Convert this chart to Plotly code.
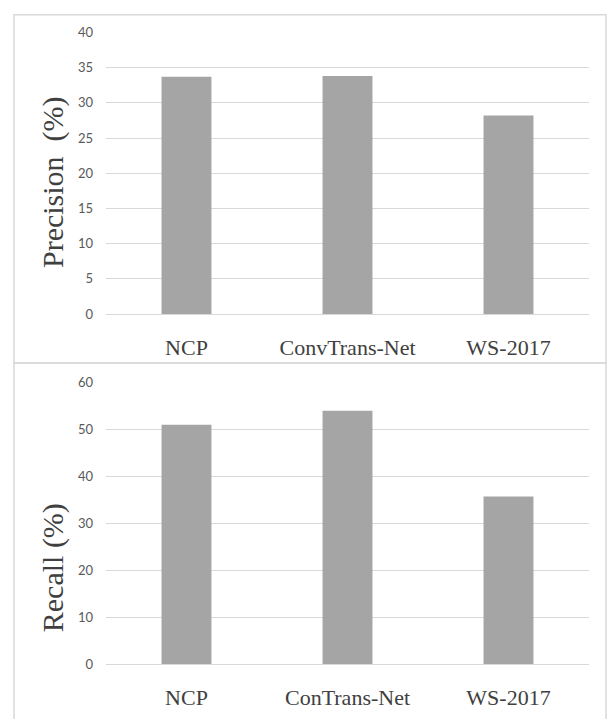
import plotly.graph_objects as go

# Data
precision_models = ["NCP", "ConvTrans-Net", "WS-2017"]
precision_values = [33.7, 33.8, 28.2]

recall_models = ["NCP", "ConTrans-Net", "WS-2017"]
recall_values = [51.0, 54.0, 35.7]

precision_ticks = [0, 5, 10, 15, 20, 25, 30, 35, 40]
recall_ticks = [0, 10, 20, 30, 40, 50, 60]

W, H = 610, 719
BAR = "#a5a5a5"
GRID = "#d9d9d9"
SERIF = "Liberation Serif, Times New Roman, serif"
SANS = "Lato, Open Sans, sans-serif"


def py(px):
    """Convert a pixel row (from top) to paper y."""
    return 1 - px / H


def px_x(px):
    return px / W


fig = go.Figure()

fig.add_trace(go.Bar(x=precision_models, y=precision_values, width=0.31,
                     marker=dict(color=BAR, line=dict(width=0)),
                     xaxis="x", yaxis="y", showlegend=False))
fig.add_trace(go.Bar(x=recall_models, y=recall_values, width=0.31,
                     marker=dict(color=BAR, line=dict(width=0)),
                     xaxis="x2", yaxis="y2", showlegend=False))

xdom = [px_x(106), px_x(589)]

common_x = dict(showline=False, ticks="", showgrid=False, zeroline=False,
                tickfont=dict(family=SERIF, size=22, color="#404040"),
                ticklabelstandoff=18)
common_y = dict(showline=False, ticks="", showgrid=True, gridcolor=GRID,
                gridwidth=1, zeroline=True, zerolinecolor=GRID, zerolinewidth=1,
                tickfont=dict(family=SANS, size=13, color="#595959"),
                ticklabelstandoff=12)

fig.update_layout(
    width=W, height=H,
    margin=dict(l=0, r=0, t=0, b=0),
    paper_bgcolor="white", plot_bgcolor="white",
    bargap=0.69,
    xaxis=dict(domain=xdom, anchor="y", **common_x),
    yaxis=dict(domain=[py(313), py(25)], anchor="x", range=[0, 40],
               tickvals=precision_ticks, **common_y),
    xaxis2=dict(domain=xdom, anchor="y2", **common_x),
    yaxis2=dict(domain=[py(671), py(383)], anchor="x2", range=[0, 60],
                tickvals=recall_ticks, **common_y),
)

# Panel frames
fig.add_shape(type="rect", xref="paper", yref="paper",
              x0=px_x(14), x1=px_x(606), y0=py(363), y1=py(7),
              line=dict(color=GRID, width=1.5), fillcolor="rgba(0,0,0,0)", layer="below")
fig.add_shape(type="rect", xref="paper", yref="paper",
              x0=px_x(14), x1=px_x(606), y0=py(730), y1=py(363),
              line=dict(color=GRID, width=1.5), fillcolor="rgba(0,0,0,0)", layer="below")

# Axis titles
fig.add_annotation(text="Precision  (%)", xref="paper", yref="paper",
                   x=px_x(53), y=py(178), textangle=-90, showarrow=False,
                   xanchor="center", yanchor="middle",
                   font=dict(family=SERIF, size=30, color="#404040"))
fig.add_annotation(text="Recall (%)", xref="paper", yref="paper",
                   x=px_x(53), y=py(573), textangle=-90, showarrow=False,
                   xanchor="center", yanchor="middle",
                   font=dict(family=SERIF, size=30, color="#404040"))

fig.write_html("out.html")
